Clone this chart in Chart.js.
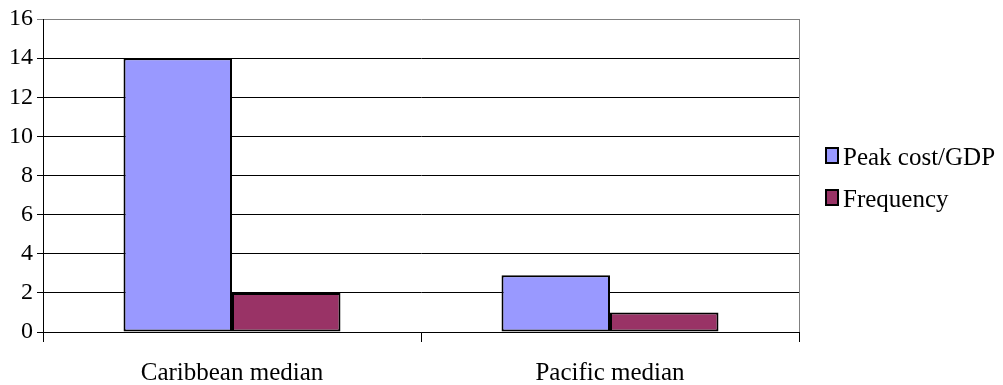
<!DOCTYPE html>
<html>
<head>
<meta charset="utf-8">
<script src="https://cdn.jsdelivr.net/npm/chart.js@4/dist/chart.umd.min.js"></script>
<style>
  html, body { margin: 0; padding: 0; background: #fff; }
  #wrap { width: 1003px; height: 385px; }
</style>
</head>
<body>
<div id="wrap"><canvas id="c" width="1003" height="385"></canvas></div>
<script>
const categories = ["Caribbean median", "Pacific median"];
const peakCostGdp = [14, 2.9];
const frequency = [2, 1];
const seriesLabels = ["Peak cost/GDP", "Frequency"];
const seriesColors = ["#9999FF", "#993366"];

const FONT = "'Liberation Serif', 'Times New Roman', serif";

// Legend on the right plus the grey right frame edge
const sideLegend = {
  id: "sideLegend",
  afterDraw(chart) {
    const ctx = chart.ctx;
    const a = chart.chartArea;
    ctx.save();
    ctx.strokeStyle = "#808080";
    ctx.lineWidth = 1;
    ctx.beginPath();
    ctx.moveTo(a.right + 0.5, a.top);
    ctx.lineTo(a.right + 0.5, a.bottom);
    ctx.stroke();

    ctx.font = "25px " + FONT;
    ctx.textBaseline = "alphabetic";
    chart.data.datasets.forEach((ds, i) => {
      const y = 148 + i * 42;
      ctx.fillStyle = ds.backgroundColor;
      ctx.fillRect(826, y, 12, 15);
      ctx.strokeStyle = "#000";
      ctx.lineWidth = 2;
      ctx.strokeRect(826, y, 12, 15);
      ctx.fillStyle = "#000";
      ctx.fillText(ds.label, 843, y + 17);
    });
    ctx.restore();
  }
};

new Chart(document.getElementById("c"), {
  type: "bar",
  data: {
    labels: categories,
    datasets: [
      { label: seriesLabels[0], data: peakCostGdp, backgroundColor: seriesColors[0], borderColor: "#000", borderWidth: 2, borderSkipped: false },
      { label: seriesLabels[1], data: frequency, backgroundColor: seriesColors[1], borderColor: "#000", borderWidth: 2, borderSkipped: false }
    ]
  },
  options: {
    responsive: false,
    animation: false,
    layout: { padding: { top: 19, right: 204, left: 0, bottom: 0 } },
    plugins: { legend: { display: false }, tooltip: { enabled: false } },
    datasets: { bar: { barPercentage: 1, categoryPercentage: 0.574 } },
    scales: {
      x: {
        grid: { offset: true, drawOnChartArea: false, color: "#000", tickLength: 10, lineWidth: 1 },
        border: { color: "#000", width: 1 },
        ticks: { color: "#000", font: { family: FONT, size: 25 }, padding: 16, maxRotation: 0 },
        afterFit(s) { s.height = 53; }
      },
      y: {
        min: 0, max: 16,
        grid: {
          color: (c) => (c.tick && c.tick.value === 16 ? "#808080" : "#000"),
          tickLength: 6, lineWidth: 1
        },
        border: { color: "#000", width: 1 },
        ticks: { stepSize: 2, color: "#000", font: { family: FONT, size: 24 }, padding: 4 },
        afterFit(s) { s.width = 43; }
      }
    }
  },
  plugins: [sideLegend]
});
</script>
</body>
</html>
